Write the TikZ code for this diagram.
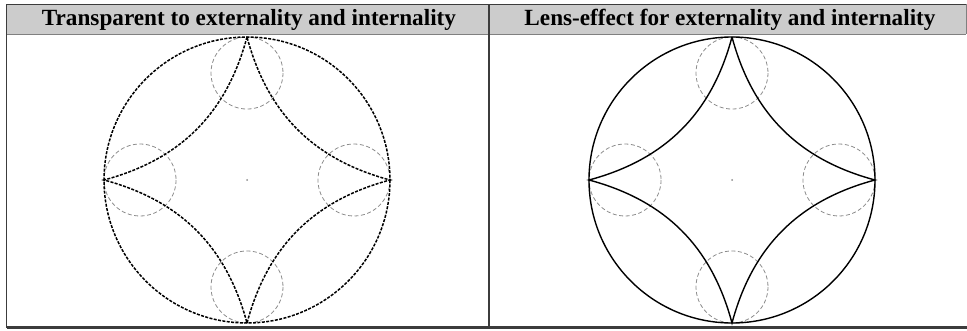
\documentclass[tikz,border=0pt]{standalone}
\usepackage{fontspec}
\setmainfont{Liberation Serif}
\usetikzlibrary{positioning, calc}
\definecolor{headgray}{RGB}{204,204,204}
\definecolor{rulegray}{RGB}{60,60,60}
\definecolor{helpgray}{RGB}{140,140,140}
\tikzset{
    header/.style={font=\bfseries\fontsize{23.2}{25}\selectfont, text=black, inner sep=0pt},
    tablerule/.style={draw=rulegray, line width=1.6pt},
    ring/.style={draw=black, line width=1.4pt},
    transp/.style={ring, line width=1.5pt, dash pattern=on 3pt off 1.4pt},
    lens/.style={ring, solid},
    helper/.style={draw=helpgray, line width=0.8pt, dash pattern=on 4pt off 2.5pt},
    centre/.style={fill=helpgray}
}

\begin{document}
\begin{tikzpicture}[x=1pt, y=-1pt]
    \useasboundingbox (0,0) rectangle (967,331);

    % table
    \fill[headgray] (6.5,4.5) rectangle (966,34.5);
    \draw[draw=gray, line width=1.8pt] (6.5,34.5) -- (966,34.5);
    \draw[tablerule] (6.5,4.5) -- (966,4.5);
    \draw[draw=gray, line width=0.8pt] (966,4.5) -- (966,34.5);
    \draw[tablerule] (6.5,4.5) -- (6.5,327.5);
    \draw[tablerule] (489,4.5) -- (489,327.5);
    \draw[rulegray, line width=2.6pt] (6.5,327.5) -- (967,327.5);

    \node[header] (lefthead) at (249,20) {Transparent to externality and internality};
    \node[header] (righthead) at (730,20) {Lens-effect for externality and internality};

    % left panel
    \coordinate (lc) at (247,180);
    \coordinate (lt) at (247,37);
    \coordinate (ll) at (104,180);
    \coordinate (lb) at (247,323);
    \coordinate (lr) at (390,180);
    \foreach \p in {lt,ll,lb,lr}
        \draw[helper] ($(lc)!0.748!(\p)$) circle (36);
    \draw[transp] (lc) circle (143);
    \draw[transp] (lt) to[bend left=30] (ll) to[bend left=30] (lb)
        to[bend left=30] (lr) to[bend left=30] (lt);
    \fill[centre] (lc) circle (1);

    % right panel
    \coordinate (rc) at (732,180);
    \coordinate (rt) at (732,37);
    \coordinate (rl) at (589,180);
    \coordinate (rb) at (732,323);
    \coordinate (rr) at (875,180);
    \foreach \p in {rt,rl,rb,rr}
        \draw[helper] ($(rc)!0.748!(\p)$) circle (36);
    \draw[lens] (rc) circle (143);
    \draw[lens] (rt) to[bend left=30] (rl) to[bend left=30] (rb)
        to[bend left=30] (rr) to[bend left=30] (rt);
    \fill[centre] (rc) circle (1);
\end{tikzpicture}
\end{document}
